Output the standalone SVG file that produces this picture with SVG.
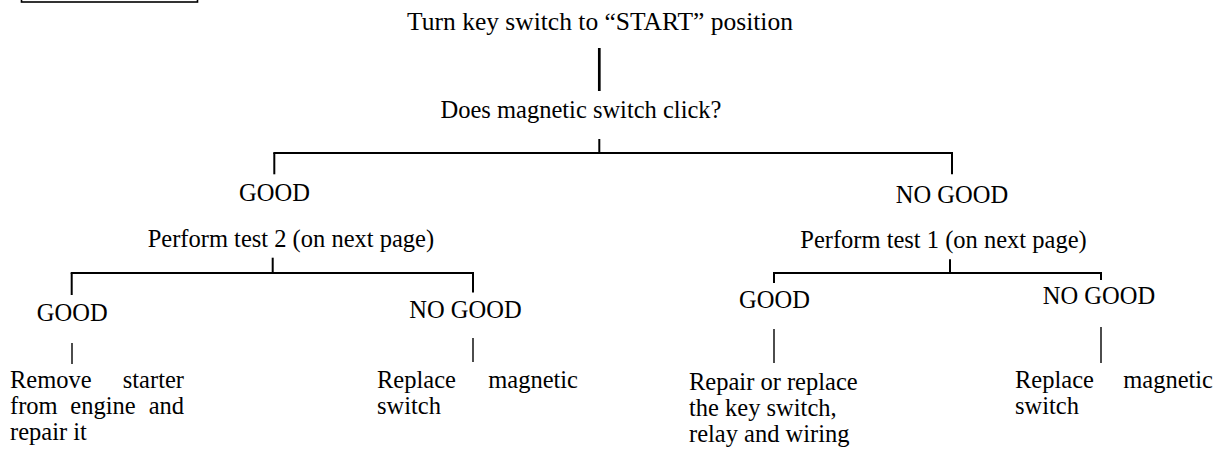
<svg xmlns="http://www.w3.org/2000/svg" width="1222" height="453" viewBox="0 0 1222 453">
<style>
text{font-family:"Liberation Serif","Times New Roman",serif;font-size:24.5px;fill:#000}
.c line{stroke:#000;stroke-width:2;fill:none}
.c .thick{stroke-width:2.7}
.c .thin{stroke-width:1.4}
</style>
<rect x="21.5" y="-8" width="176" height="10" fill="none" stroke="#000" stroke-width="1.6"/>
<g class="c" id="connectors">
<line class="thick" x1="599.3" y1="48" x2="599.3" y2="91"/>
<line x1="599.3" y1="139" x2="599.3" y2="153"/>
<line x1="273.3" y1="153" x2="953" y2="153"/>
<line x1="274.3" y1="153" x2="274.3" y2="174.3"/>
<line x1="952" y1="153" x2="952" y2="174.3"/>
<line x1="272.7" y1="257.7" x2="272.7" y2="273"/>
<line x1="70.7" y1="273" x2="474" y2="273"/>
<line x1="71.7" y1="273" x2="71.7" y2="295"/>
<line x1="473" y1="273" x2="473" y2="292.5"/>
<line class="thin" x1="72" y1="343" x2="72" y2="364"/>
<line class="thin" x1="473" y1="338" x2="473" y2="362"/>
<line x1="950" y1="259.3" x2="950" y2="273"/>
<line x1="773" y1="273" x2="1102" y2="273"/>
<line x1="774" y1="273" x2="774" y2="283"/>
<line x1="1101" y1="273" x2="1101" y2="280"/>
<line class="thin" x1="774" y1="329" x2="774" y2="363"/>
<line class="thin" x1="1101" y1="327" x2="1101" y2="363"/>
</g>
<g id="n-start"><text x="600" y="30" text-anchor="middle" style="font-size:25.5px">Turn key switch to “START” position</text></g>
<g id="n-click"><text x="581" y="118" text-anchor="middle">Does magnetic switch click?</text></g>
<g id="n-good1"><text x="274.5" y="200.7" text-anchor="middle">GOOD</text></g>
<g id="n-nogood1"><text x="952" y="202.7" text-anchor="middle">NO GOOD</text></g>
<g id="n-test2"><text x="147.7" y="246.7">Perform test 2 (on next page)</text></g>
<g id="n-test1"><text x="1086.7" y="248.3" text-anchor="end">Perform test 1 (on next page)</text></g>
<g id="n-good2a"><text x="72.2" y="321" text-anchor="middle">GOOD</text></g>
<g id="n-nogood2a"><text x="465.5" y="317.7" text-anchor="middle">NO GOOD</text></g>
<g id="n-good2b"><text x="774.5" y="308.3" text-anchor="middle">GOOD</text></g>
<g id="n-nogood2b"><text x="1099" y="304" text-anchor="middle">NO GOOD</text></g>
<g id="n-remove">
<text y="388"><tspan x="10">Remove</tspan><tspan x="184" text-anchor="end">starter</tspan></text>
<text y="414"><tspan x="10">from</tspan><tspan x="103" text-anchor="middle">engine</tspan><tspan x="184" text-anchor="end">and</tspan></text>
<text x="10" y="440">repair it</text>
</g>
<g id="n-replace1">
<text y="388"><tspan x="377">Replace</tspan><tspan x="578" text-anchor="end">magnetic</tspan></text>
<text x="377" y="414">switch</text>
</g>
<g id="n-repair">
<text x="689" y="390">Repair or replace</text>
<text x="689" y="416">the key switch,</text>
<text x="689" y="442">relay and wiring</text>
</g>
<g id="n-replace2">
<text y="388"><tspan x="1015">Replace</tspan><tspan x="1213" text-anchor="end">magnetic</tspan></text>
<text x="1015" y="414">switch</text>
</g>
</svg>
